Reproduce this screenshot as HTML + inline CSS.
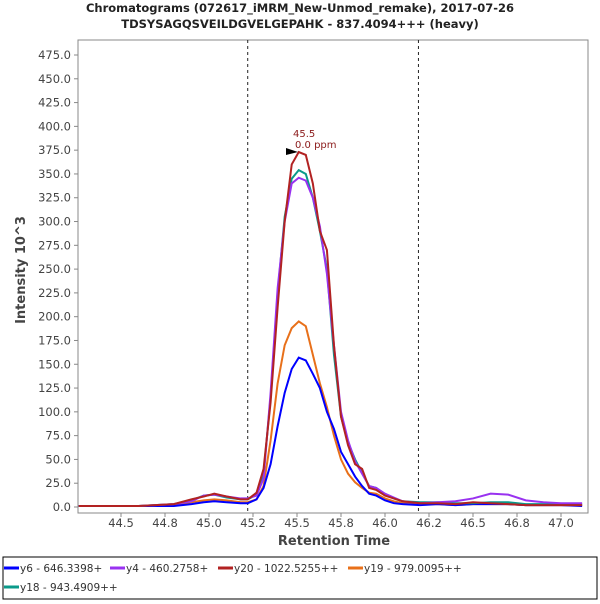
<!DOCTYPE html>
<html><head><meta charset="utf-8"><style>
body{margin:0;background:#fff;width:600px;height:600px;overflow:hidden;font-family:"DejaVu Sans","Liberation Sans",sans-serif}
</style></head><body>
<svg id="chart" width="600" height="600" xmlns="http://www.w3.org/2000/svg" font-family="DejaVu Sans, Liberation Sans, sans-serif">
<text x="300" y="12" text-anchor="middle" font-size="11.5" font-weight="bold" fill="#222">Chromatograms (072617_iMRM_New-Unmod_remake), 2017-07-26</text>
<text x="300" y="28" text-anchor="middle" font-size="11.5" font-weight="bold" fill="#222">TDSYSAGQSVEILDGVELGEPAHK - 837.4094+++ (heavy)</text>
<rect x="78" y="40" width="510" height="473" fill="#fff" stroke="#888"/>
<g id="yticks"></g><g id="xticks"></g>
<g id="series"></g>
<text x="334" y="545" text-anchor="middle" font-size="13" font-weight="bold" fill="#444">Retention Time</text>
<text transform="translate(25,270) rotate(-90)" text-anchor="middle" font-size="13" font-weight="bold" fill="#444">Intensity 10^3</text>
<g>
<text x="293" y="137" font-size="10" fill="#8b1a1a">45.5</text>
<text x="295" y="148" font-size="10" fill="#8b1a1a">0.0 ppm</text>
<polygon id="peakArrow" points="286,148 298,152 286,155" fill="#000"/>
</g>
<rect x="3" y="557" width="594" height="42" fill="#fff" stroke="#000"/>
<g id="legend"></g>
</svg>
<script>
const times=[44.26,44.4,44.6,44.8,44.9,44.97,45.03,45.1,45.18,45.22,45.27,45.31,45.35,45.39,45.43,45.47,45.51,45.55,45.59,45.63,45.67,45.71,45.75,45.79,45.83,45.87,45.91,45.95,46.0,46.05,46.1,46.2,46.3,46.4,46.5,46.6,46.7,46.8,46.9,47.0,47.12];
const y6=[1,1,1,1,3,5,6,5,4,4,8,20,45,85,120,145,157,154,140,125,100,82,58,45,32,22,14,12,7,4,3,2,3,2,3,3,3,2,2,2,1];
const y4=[1,1,1,3,6,12,13,11,9,9,12,30,120,230,300,340,346,343,325,295,245,170,100,70,48,35,22,20,14,10,6,4,5,6,9,14,13,7,5,4,4];
const y20=[1,1,1,3,8,11,14,11,8,8,15,40,110,210,300,360,373,370,340,290,270,170,95,65,45,40,20,18,12,9,6,4,4,3,5,4,3,2,2,2,2];
const y19=[1,1,1,2,5,7,8,7,5,5,8,22,70,130,170,188,195,190,160,130,105,75,50,35,26,20,15,14,9,6,4,3,3,2,3,3,3,2,2,2,2];
const y18=[1,1,1,3,7,12,13,10,8,8,13,35,115,225,305,345,354,350,325,290,250,160,95,68,50,36,22,20,13,9,6,5,5,4,4,5,5,3,3,3,3];
const yTicks=[0,25,50,75,100,125,150,175,200,225,250,275,300,325,350,375,400,425,450,475];
const xTicks=[44.5,44.75,45.0,45.25,45.5,45.75,46.0,46.25,46.5,46.75,47.0];
const xTickLabels=["44.5","44.8","45.0","45.2","45.5","45.8","46.0","46.2","46.5","46.8","47.0"];
const boundaries=[45.22,46.19];
const seriesNames=["y6 - 646.3398+","y4 - 460.2758+","y20 - 1022.5255++","y19 - 979.0095++","y18 - 943.4909++"];
const seriesData=[y6,y4,y20,y19,y18];
const colors=["#0000ff","#9932f0","#b22222","#e8701a","#0a9a8a"];
const NS="http://www.w3.org/2000/svg";
const X=t=>121+(t-44.5)*176;
const Y=v=>507-v*(452/475);
function mk(tag,attrs,parent){const e=document.createElementNS(NS,tag);for(const k in attrs)e.setAttribute(k,attrs[k]);parent.appendChild(e);return e;}
const yg=document.getElementById('yticks');
yTicks.forEach(v=>{
 const l=mk('line',{x1:74,x2:78,y1:Y(v),y2:Y(v),stroke:'#888'},yg);
 
 
 const t=mk('text',{x:71,y:Y(v)+4,'text-anchor':'end','font-size':11.5,fill:'#444'},yg);
 
 
 t.textContent=v.toFixed(1);
});
const xg=document.getElementById('xticks');
xTicks.forEach((v,i)=>{
 const l=mk('line',{x1:X(v),x2:X(v),y1:513,y2:517,stroke:'#888'},xg);
 
 
 const t=mk('text',{x:X(v),y:527,'text-anchor':'middle','font-size':11.5,fill:'#444'},xg);
 
 
 t.textContent=xTickLabels[i];
});
const sg=document.getElementById('series');
boundaries.forEach(b=>{
 const l=mk('line',{x1:X(b),x2:X(b),y1:40,y2:513,stroke:'#222','stroke-dasharray':'3,3'},sg);
 
 
});
[3,0,4,1,2].forEach(i=>{
 const p=mk('polyline',{points:times.map((t,j)=>X(t)+','+Y(seriesData[i][j])).join(' '),fill:'none',stroke:colors[i],'stroke-width':2},sg);
 
 
});
const lg=document.getElementById('legend');
const pos=[[4,572],[110,572],[218,572],[348,572],[4,591]];
seriesNames.forEach((n,i)=>{
 const l=mk('line',{x1:pos[i][0],x2:pos[i][0]+15,y1:pos[i][1]-4,y2:pos[i][1]-4,stroke:colors[i],'stroke-width':3},lg);
 
 
 const t=mk('text',{x:pos[i][0]+16,y:pos[i][1],'font-size':10.5,fill:'#333'},lg);
 
 
 t.textContent=n;
});
</script>
</body></html>
